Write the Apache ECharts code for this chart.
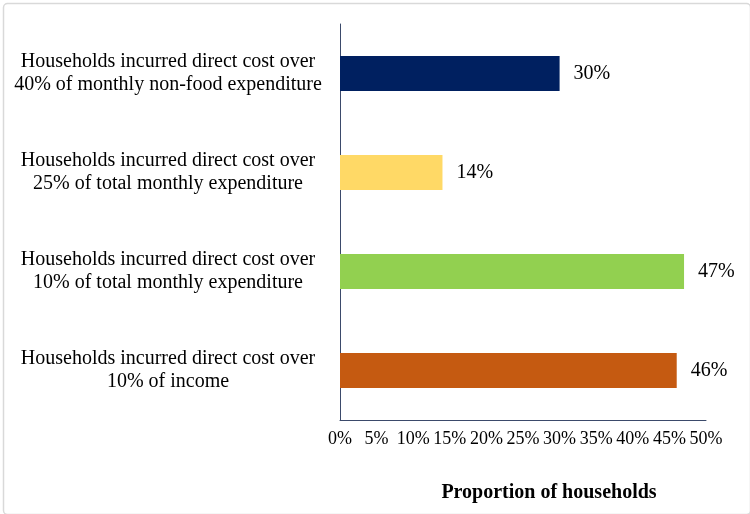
<!DOCTYPE html>
<html>
<head>
<meta charset="utf-8">
<script src="https://cdn.jsdelivr.net/npm/echarts@6/dist/echarts.min.js"></script>
<style>html,body{margin:0;padding:0;background:#fff;}#c{width:750px;height:514px;}</style>
</head>
<body>
<div id="c"></div>
<script>
const categories = [
  "Households incurred direct cost over\n40% of monthly non-food expenditure",
  "Households incurred direct cost over\n25% of total monthly expenditure",
  "Households incurred direct cost over\n10% of total monthly expenditure",
  "Households incurred direct cost over\n10% of income"
];
const values = [30, 14, 47, 46];
const barColors = ["#002060", "#FFD966", "#92D050", "#C55A11"];
const xTicks = [0, 5, 10, 15, 20, 25, 30, 35, 40, 45, 50];
const axisTitle = "Proportion of households";

const chart = echarts.init(document.getElementById('c'), null, {renderer: 'canvas'});
const font = "'Liberation Serif', 'Times New Roman', serif";
chart.setOption({
  animation: false,
  backgroundColor: '#fff',
  textStyle: {fontFamily: font},
  graphic: [{
    type: 'rect', left: 1, top: 1,
    shape: {width: 747, height: 511, r: 4},
    style: {fill: 'none', stroke: '#d9d9d9', lineWidth: 1.5},
    silent: true
  }],
  grid: {left: 340, right: 44, top: 24, bottom: 94},
  xAxis: {
    type: 'value', min: xTicks[0], max: xTicks[xTicks.length - 1], interval: 5,
    name: axisTitle, nameLocation: 'middle', nameGap: 63,
    nameTextStyle: {fontFamily: font, fontSize: 20, fontWeight: 'bold', color: '#000', padding: [0, 0, 0, 52]},
    axisLine: {show: true, lineStyle: {color: '#3B4A6B', width: 1}},
    axisTick: {show: false},
    splitLine: {show: false},
    axisLabel: {fontFamily: font, fontSize: 18, color: '#000', margin: 10, formatter: v => v + '%'}
  },
  yAxis: {
    type: 'category', data: categories, inverse: true,
    axisLine: {show: true, lineStyle: {color: '#3B4A6B', width: 1}},
    axisTick: {show: false},
    axisLabel: {fontFamily: font, fontSize: 20, color: '#000', align: 'center', margin: 172, lineHeight: 23, padding: [5, 0, 0, 0]}
  },
  series: [{
    type: 'bar',
    data: values.map((v, i) => ({value: v, itemStyle: {color: barColors[i]}})),
    barWidth: 35,
    label: {show: true, position: 'right', distance: 14, fontFamily: font, fontSize: 20, color: '#000', formatter: p => p.value + '%'}
  }]
});
</script>
</body>
</html>
